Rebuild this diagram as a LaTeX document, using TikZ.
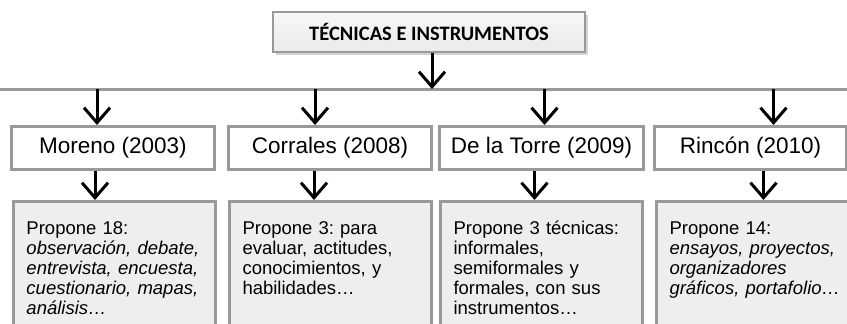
\documentclass[tikz,border=0pt]{standalone}
\usepackage{fontspec}
\setmainfont{Liberation Sans}
\newfontfamily\titulofont{Carlito}
\usetikzlibrary{arrows.meta,shadows}
\frenchspacing
\definecolor{borde}{HTML}{999999}
\definecolor{relleno}{HTML}{EEEEEE}
\tikzset{
  flecha/.style={line width=3pt,-{Straight Barb[length=15pt,width=26pt,line width=3pt]}},
  autor/.style={draw=borde,line width=3pt,fill=white,anchor=north west,inner sep=0pt,
    minimum width=203pt,minimum height=43pt,font=\fontsize{22.5}{26}\selectfont},
  texto/.style={draw=borde,line width=3pt,fill=relleno,anchor=north west,align=left,
    text width=176pt,inner xsep=13pt,inner ysep=10pt,minimum height=150pt,
    text depth=100pt,font=\fontsize{18.5}{20}\selectfont,
    execute at begin node=\rule{0pt}{16pt}},
}
\begin{document}
\begin{tikzpicture}[x=1pt,y=-1pt]
\useasboundingbox (0,0) rectangle (847,324);
\clip (0,0) rectangle (847,324);
\pgfmathsetmacro{\ya}{125}
\pgfmathsetmacro{\yb}{200}
% titulo
\node[draw=borde,line width=1.2pt,top color=gray!6,bottom color=gray!16,drop shadow={opacity=0.35},
  minimum width=312pt,minimum height=40pt,font=\titulofont\bfseries\fontsize{20.5}{24}\selectfont]
  (titulo) at (429,32) {TÉCNICAS E INSTRUMENTOS};
\coordinate (bus) at (0,89);
\draw[borde,line width=3pt] (bus) -- (847,89);
\draw[flecha] ([xshift=3pt]titulo.south) -- ([xshift=3pt]titulo.south |- bus);
%
\node[autor] (moreno) at (10,\ya) {Moreno (2003)};
\node[autor] (corrales) at (227,\ya) {Corrales (2008)};
\node[autor,minimum width=204pt] (torre) at (438,\ya) {De la Torre (2009)};
\node[autor,minimum width=192pt] (rincon) at (653,\ya) {Rincón (2010)};
%
\node[texto] (morenotxt) at (12,\yb) {Propone 18:\\
  \textit{observación, debate,}\\ \textit{entrevista, encuesta,}\\
  \textit{cuestionario, mapas,}\\ \textit{análisis…}};
\node[texto] (corralestxt) at (228,\yb) {Propone 3: para\\ evaluar, actitudes,\\
  conocimientos, y\\ habilidades…};
\node[texto] (torretxt) at (439,\yb) {Propone 3 técnicas:\\ informales,\\
  semiformales y\\ formales, con sus\\ instrumentos…};
\node[texto,text width=180pt] (rincontxt) at (655,\yb) {Propone 14:\\
  \textit{ensayos, proyectos,}\\ \textit{organizadores}\\ \textit{gráficos, portafolio…}};
%
\draw[flecha] ([xshift=-16pt]moreno.north |- bus) -- ([xshift=-16pt]moreno.north);
\draw[flecha] ([xshift=-15pt]corrales.north |- bus) -- ([xshift=-15pt]corrales.north);
\draw[flecha] ([xshift=3pt]torre.north |- bus) -- ([xshift=3pt]torre.north);
\draw[flecha] ([xshift=23pt]rincon.north |- bus) -- ([xshift=23pt]rincon.north);
%
\draw[flecha] ([xshift=-18pt]moreno.south) -- ([xshift=-18pt]moreno.south |- morenotxt.north);
\draw[flecha] ([xshift=-16pt]corrales.south) -- ([xshift=-16pt]corrales.south |- corralestxt.north);
\draw[flecha] ([xshift=-7pt]torre.south) -- ([xshift=-7pt]torre.south |- torretxt.north);
\draw[flecha] ([xshift=13pt]rincon.south) -- ([xshift=13pt]rincon.south |- rincontxt.north);
\end{tikzpicture}
\end{document}
